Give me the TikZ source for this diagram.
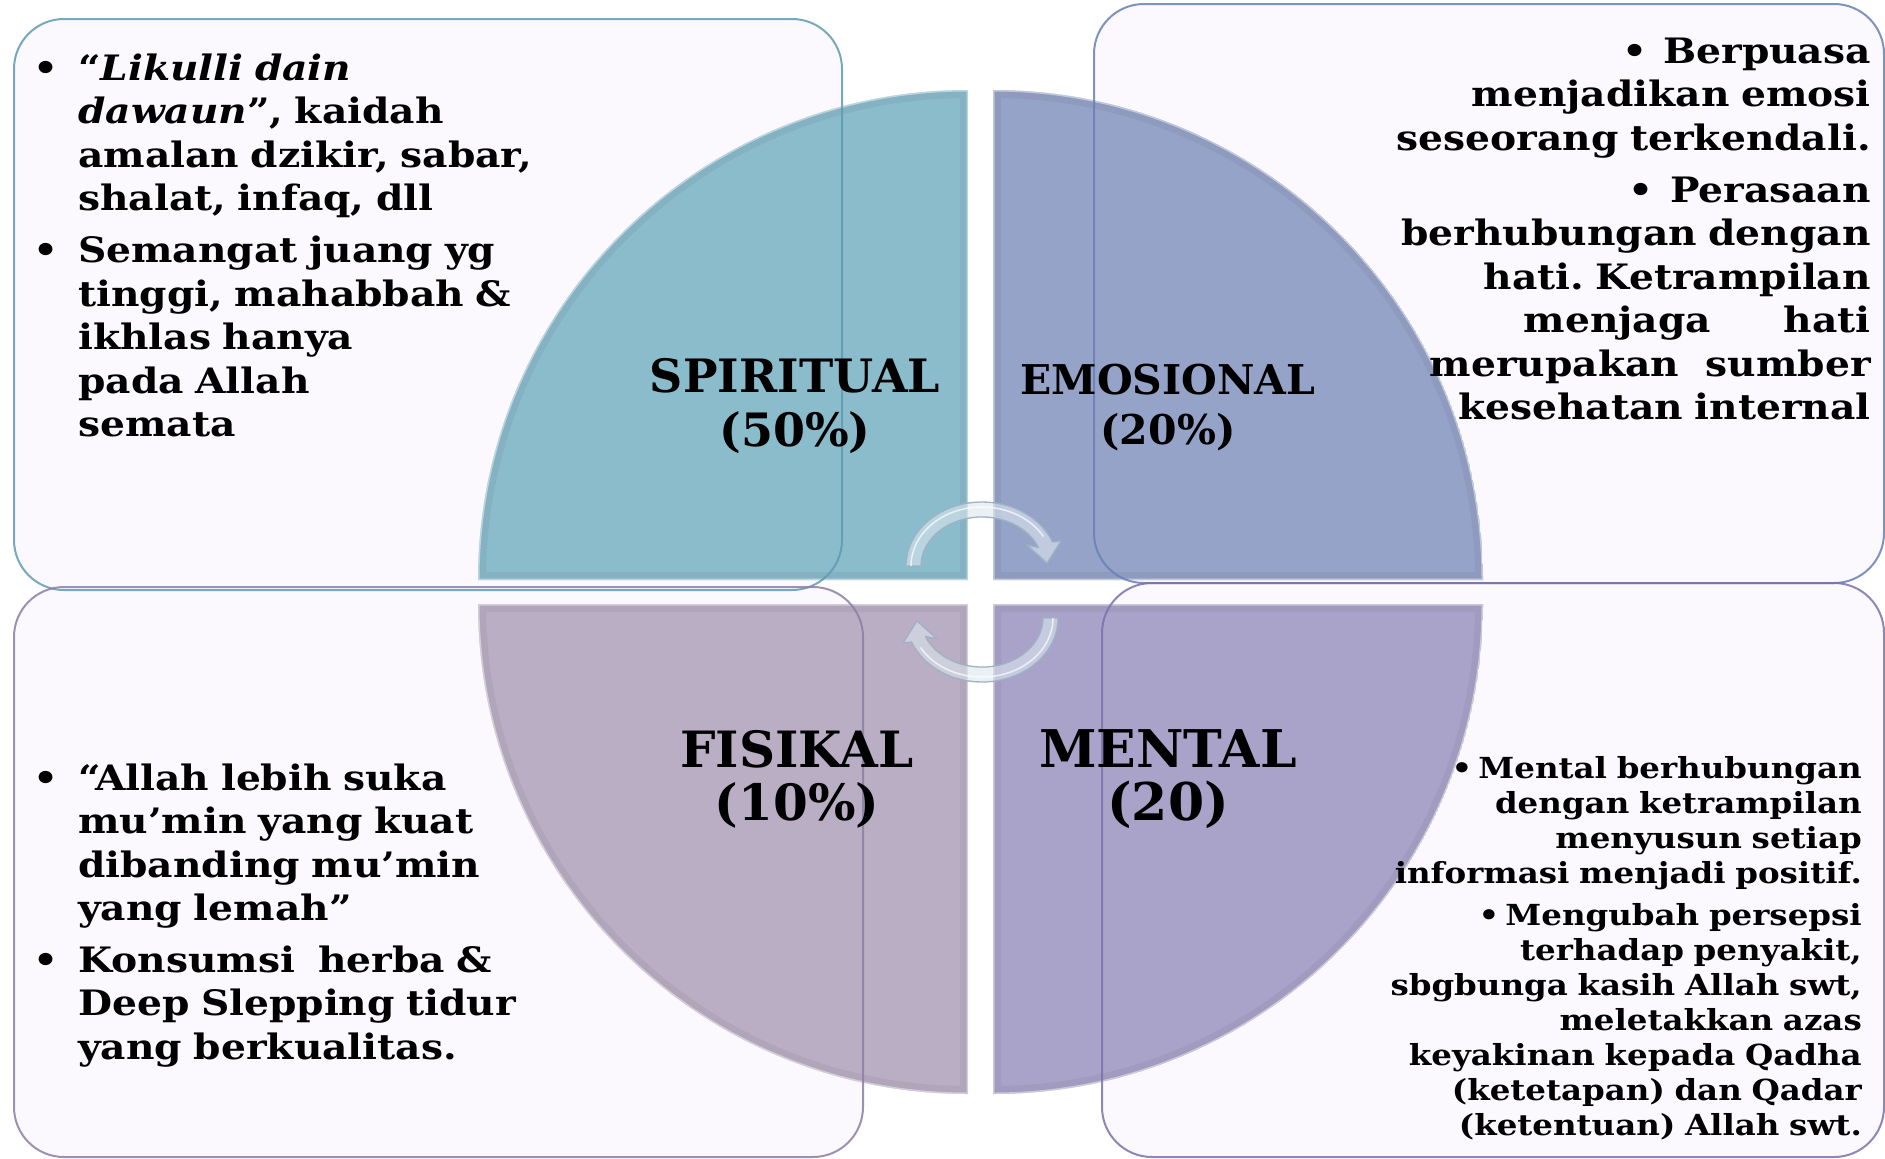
\documentclass[tikz,border=0pt]{standalone}
\usepackage{fontspec}
\setmainfont{DejaVu Serif}
\newfontfamily\bodyfont[FakeStretch=1.12]{DejaVu Serif}
\definecolor{spirit}{HTML}{8BBCCC}
\definecolor{emo}{HTML}{96A3C9}
\definecolor{fis}{HTML}{BAAEC4}
\definecolor{ment}{HTML}{A9A3C9}
\definecolor{boxfill}{HTML}{FBF9FE}
\definecolor{tlb}{HTML}{5E9BB0}
\definecolor{trb}{HTML}{6A7FB6}
\definecolor{blb}{HTML}{8C7FA3}
\definecolor{brb}{HTML}{7B72AA}
\definecolor{arrowfill}{HTML}{DCE6EE}
\definecolor{arrowline}{HTML}{9FB2C4}
\def\qSpirit{(968,580) -- (478,580) arc[start angle=180,end angle=270,radius=490] -- cycle}
\def\qEmo{(993,580) -- (993,90) arc[start angle=270,end angle=360,radius=490] -- cycle}
\def\qFis{(968,604) -- (478,604) arc[start angle=180,end angle=90,radius=490] -- cycle}
\def\qMent{(993,604) -- (1483,604) arc[start angle=0,end angle=90,radius=490] -- cycle}
\newcommand\bul{\leavevmode\llap{•\hspace{20pt}}}
\tikzset{
  boxshape/.style={rounded corners=50pt},
  boxline/.style={boxshape, line width=2pt, draw opacity=0.85},
  bodytext/.style={inner sep=0pt, text width=760pt, font=\bodyfont\fontsize{35}{43.5}\selectfont\bfseries\frenchspacing},
  smalltext/.style={inner sep=0pt, text width=760pt, font=\bodyfont\fontsize{29}{35}\selectfont\bfseries\frenchspacing},
  qlabel/.style={inner sep=0pt, align=center, anchor=base},
  bevelshade/.style={line width=16pt, opacity=0.12},
  bevelrim/.style={white, line width=3pt, opacity=0.45},
  cyclearrow/.pic={
    \path[fill=arrowfill, fill opacity=0.6, draw=arrowline, line width=1.3pt, line join=round]
      (-76,-26) arc[start angle=180,end angle=338,x radius=76,y radius=64]
      -- (79,-51) -- (65,-29) -- (45,-47) -- (56.6,-44.4)
      arc[start angle=338,end angle=180,x radius=61,y radius=49] -- cycle;
    \path[draw=white, draw opacity=0.7, line width=1.5pt]
      (-71,-26) arc[start angle=180,end angle=330,x radius=71,y radius=59];
  }
}
\begin{document}
\begin{tikzpicture}[x=1pt,y=-1pt]
\useasboundingbox (0,0) rectangle (1885,1159);
\fill[white] (0,0) rectangle (1885,1159);
% box fills
\fill[boxfill, boxshape] (14,19) rectangle (842,590);
\fill[boxfill, boxshape] (1094,4) rectangle (1884,583);
\fill[boxfill, boxshape] (14,587) rectangle (863,1157);
\fill[boxfill, boxshape] (1102,583) rectangle (1884,1157);
% quadrants
\begin{scope}
  \clip \qSpirit;
  \fill[spirit] \qSpirit;
  \draw[bevelshade, spirit!60!black] \qSpirit;
  \draw[bevelrim] \qSpirit;
\end{scope}
\begin{scope}
  \clip \qEmo;
  \fill[emo] \qEmo;
  \draw[bevelshade, emo!60!black] \qEmo;
  \draw[bevelrim] \qEmo;
\end{scope}
\begin{scope}
  \clip \qFis;
  \fill[fis] \qFis;
  \draw[bevelshade, fis!60!black] \qFis;
  \draw[bevelrim] \qFis;
\end{scope}
\begin{scope}
  \clip \qMent;
  \fill[ment] \qMent;
  \draw[bevelshade, ment!60!black] \qMent;
  \draw[bevelrim] \qMent;
\end{scope}
% box outlines
\draw[boxline, tlb] (14,19) rectangle (842,590);
\draw[boxline, trb] (1094,4) rectangle (1884,583);
\draw[boxline, blb] (14,587) rectangle (863,1157);
\draw[boxline, brb] (1102,583) rectangle (1884,1157);
% cycle arrows
\pic at (982,592) {cyclearrow};
\pic[rotate=180] at (982,592) {cyclearrow};
% quadrant labels (base = last line)
\node[qlabel, font=\fontsize{46}{54}\selectfont\bfseries] (spiritual) at (795,446) {SPIRITUAL\\(50\%)};
\node[qlabel, font=\fontsize{41}{50}\selectfont\bfseries] (emosional) at (1168,444) {EMOSIONAL\\(20\%)};
\node[qlabel, font=\fontsize{50}{53}\selectfont\bfseries] (fisikal) at (797,820) {FISIKAL\\(10\%)};
\node[qlabel, font=\fontsize{52}{53}\selectfont\bfseries] (mental) at (1168,820) {MENTAL\\(20)};
% body texts (base = first line)
\node[bodytext, align=left, anchor=base west] (tltext) at (78,80) {%
\bul“\textit{Likulli dain}\\
\textit{dawaun}”, kaidah\\
amalan dzikir, sabar,\\
shalat, infaq, dll\\[8.5pt]
\bul Semangat juang yg\\
tinggi, mahabbah \&\\
ikhlas hanya\\
pada Allah\\
semata};
\node[bodytext, align=right, anchor=base east] (trtext) at (1871,63) {%
•\hspace{16pt}Berpuasa\\
menjadikan emosi\\
seseorang terkendali.\\[9pt]
•\hspace{16pt}Perasaan\\
berhubungan dengan\\
hati. Ketrampilan\\
\makebox[347pt]{menjaga\hfill hati}\\
\makebox[441pt]{merupakan\hfill sumber}\\
kesehatan internal};
\node[bodytext, align=left, anchor=base west] (bltext) at (78,790) {%
\bul“Allah lebih suka\\
mu’min yang kuat\\
dibanding mu’min\\
yang lemah”\\[8pt]
\bul Konsumsi\ \ herba \&\\
Deep Slepping tidur\\
yang berkualitas.};
\node[smalltext, align=right, anchor=base east] (brtext) at (1862,778) {%
•\hspace{6pt}Mental berhubungan\\
dengan ketrampilan\\
menyusun setiap\\
informasi menjadi positif.\\[7.5pt]
•\hspace{6pt}Mengubah persepsi\\
terhadap penyakit,\\
sbgbunga kasih Allah swt,\\
meletakkan azas\\
keyakinan kepada Qadha\\
(ketetapan) dan Qadar\\
(ketentuan) Allah swt.};
\end{tikzpicture}
\end{document}
